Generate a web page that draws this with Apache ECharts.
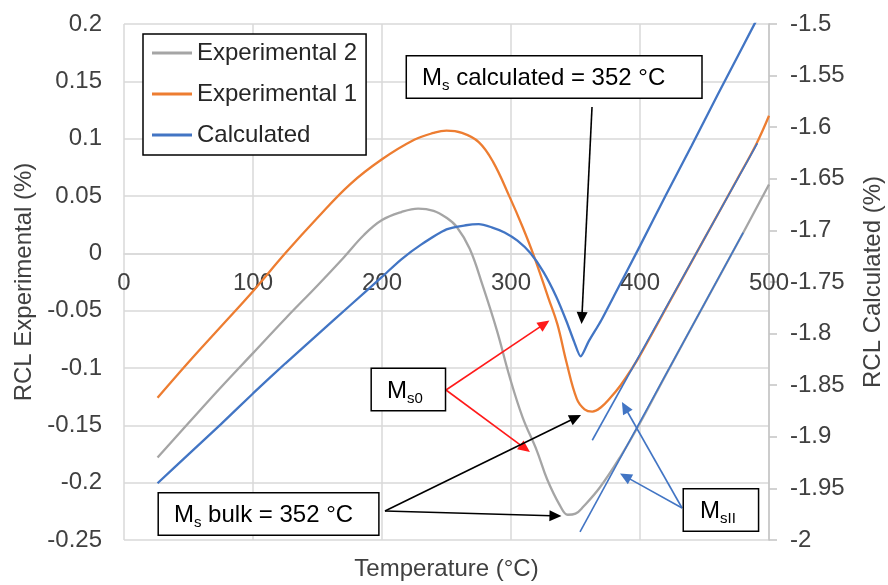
<!DOCTYPE html>
<html>
<head>
<meta charset="utf-8">
<script src="https://cdn.jsdelivr.net/npm/echarts@6/dist/echarts.min.js"></script>
<style>
  html, body { margin: 0; padding: 0; background: #fff; }
  #chart { width: 888px; height: 585px; }
</style>
</head>
<body>
<div id="chart"></div>
<script>
// Relative change in length (RCL) versus temperature, two dilatometry runs and the calculated curve
const exp2Temp = [26, 50, 75, 100, 125, 150, 170, 186, 200, 215, 228, 240, 250, 258, 268, 278, 289, 299, 309, 320, 328, 338, 344, 350, 356, 369, 385, 400, 420, 450, 480, 500];
const exp2Rcl  = [-0.178, -0.148, -0.117, -0.087, -0.057, -0.028, -0.004, 0.016, 0.029, 0.036, 0.039, 0.037, 0.031, 0.023, 0.004, -0.028, -0.067, -0.108, -0.143, -0.172, -0.197, -0.220, -0.228, -0.227, -0.221, -0.204, -0.177, -0.148, -0.106, -0.044, 0.018, 0.060];

const exp1Temp = [26, 50, 75, 100, 125, 150, 175, 200, 225, 240, 250, 262, 275, 286, 299, 309, 318, 329, 336, 343, 351, 357, 363, 370, 377, 385, 394, 400, 425, 450, 475, 490, 500];
const exp1Rcl  = [-0.126, -0.095, -0.064, -0.033, 0.000, 0.031, 0.060, 0.082, 0.099, 0.105, 0.107, 0.105, 0.097, 0.080, 0.049, 0.023, -0.003, -0.039, -0.062, -0.095, -0.127, -0.136, -0.138, -0.134, -0.126, -0.115, -0.100, -0.089, -0.038, 0.013, 0.064, 0.095, 0.120];

const calcTemp = [26, 50, 75, 100, 125, 150, 175, 200, 215, 230, 250, 265, 275, 285, 295, 305, 315, 325, 335, 343, 349, 354, 360, 370, 380, 400, 420, 440, 460, 480, 500];
const calcRcl  = [-1.945, -1.917, -1.888, -1.858, -1.829, -1.801, -1.773, -1.745, -1.728, -1.714, -1.699, -1.695, -1.694, -1.697, -1.702, -1.710, -1.722, -1.740, -1.764, -1.788, -1.808, -1.822, -1.808, -1.787, -1.763, -1.715, -1.666, -1.618, -1.569, -1.521, -1.473];

// Straight construction lines used to read M_sII
const tangentATemp = [363, 491];
const tangentARcl  = [-0.163, 0.096];
const tangentBTemp = [353.5, 480];
const tangentBRcl  = [-0.243, 0.018];

// Axis ranges and steps
const tempAxis = { min: 0, max: 500, step: 100 };
const expAxis  = { min: -0.25, max: 0.2, step: 0.05 };
const calcAxis = { min: -2, max: -1.5, step: 0.05 };

const FONT = "'Liberation Sans', Arial, sans-serif";
const GRID_COLOR = '#d9d9d9';
const TICK_TEXT = '#404040';
const BLUE = '#4275c4';
const ORANGE = '#ed7d31';
const GRAY = '#a5a5a5';

const zip = (xs, ys) => xs.map((x, i) => [x, ys[i]]);

const chart = echarts.init(document.getElementById('chart'), null, { renderer: 'canvas' });

chart.setOption({
  animation: false,
  backgroundColor: '#fff',
  textStyle: { fontFamily: FONT },
  grid: { left: 124, right: 119, top: 24, bottom: 45, containLabel: false, outerBoundsMode: 'none' },
  legend: {
    data: ['Experimental 2', 'Experimental 1', 'Calculated'],
    orient: 'vertical',
    left: 143,
    top: 34,
    icon: 'rect',
    itemWidth: 40,
    itemHeight: 3,
    itemGap: 17,
    padding: [7, 9, 8, 9],
    borderColor: '#000',
    borderWidth: 1.5,
    borderRadius: 0,
    backgroundColor: '#fff',
    textStyle: { fontSize: 24, color: '#262626', fontFamily: FONT, lineHeight: 24 }
  },
  xAxis: {
    type: 'value',
    min: tempAxis.min,
    max: tempAxis.max,
    interval: tempAxis.step,
    axisLine: { show: true, onZero: false, lineStyle: { color: GRID_COLOR, width: 1.5 } },
    axisTick: { show: false },
    axisLabel: { fontSize: 24, color: TICK_TEXT, margin: 18, fontFamily: FONT, showMinLabel: true, showMaxLabel: true },
    splitLine: { show: true, lineStyle: { color: GRID_COLOR, width: 1.5 } }
  },
  yAxis: [
    {
      type: 'value',
      position: 'left',
      min: expAxis.min,
      max: expAxis.max,
      interval: expAxis.step,
      name: 'RCL Experimental (%)',
      nameLocation: 'middle',
      nameGap: 88,
      nameTextStyle: { fontSize: 24, color: TICK_TEXT, fontFamily: FONT },
      axisLine: { show: false, onZero: false },
      axisTick: { show: false },
      axisLabel: { fontSize: 24, color: TICK_TEXT, margin: 22, fontFamily: FONT },
      splitLine: { show: true, lineStyle: { color: GRID_COLOR, width: 1.5 } }
    },
    {
      type: 'value',
      position: 'right',
      min: calcAxis.min,
      max: calcAxis.max,
      interval: calcAxis.step,
      name: 'RCL Calculated (%)',
      nameLocation: 'middle',
      nameGap: 92,
      nameTextStyle: { fontSize: 24, color: TICK_TEXT, fontFamily: FONT },
      axisLine: { show: true, onZero: false, lineStyle: { color: '#c4c4c4', width: 1.5 } },
      axisTick: { show: true, length: 8, lineStyle: { color: '#c4c4c4', width: 1.5 } },
      axisLabel: { fontSize: 24, color: TICK_TEXT, margin: 21, fontFamily: FONT },
      splitLine: { show: false }
    }
  ],
  series: [
    {
      name: 'Experimental 2', type: 'line', yAxisIndex: 0,
      data: zip(exp2Temp, exp2Rcl),
      smooth: 0.4, symbol: 'none',
      itemStyle: { color: GRAY }, lineStyle: { color: GRAY, width: 2.3 }
    },
    {
      name: 'Experimental 1', type: 'line', yAxisIndex: 0,
      data: zip(exp1Temp, exp1Rcl),
      smooth: 0.4, symbol: 'none',
      itemStyle: { color: ORANGE }, lineStyle: { color: ORANGE, width: 2.3 }
    },
    {
      name: 'Calculated', type: 'line', yAxisIndex: 1,
      data: zip(calcTemp, calcRcl),
      smooth: 0.25, symbol: 'none',
      itemStyle: { color: BLUE }, lineStyle: { color: BLUE, width: 2.3 }
    },
    {
      name: 'Tangent A', type: 'line', yAxisIndex: 0,
      data: zip(tangentATemp, tangentARcl),
      symbol: 'none', silent: true,
      itemStyle: { color: BLUE }, lineStyle: { color: BLUE, width: 1.6 }
    },
    {
      name: 'Tangent B', type: 'line', yAxisIndex: 0,
      data: zip(tangentBTemp, tangentBRcl),
      symbol: 'none', silent: true,
      itemStyle: { color: BLUE }, lineStyle: { color: BLUE, width: 1.6 }
    }
  ]
});

const toPx = (p) => chart.convertToPixel({ xAxisIndex: 0, yAxisIndex: 0 }, p);

// The temperature axis crosses the left scale at zero, so lift it from the bottom edge to that level
const zeroLevel = toPx([tempAxis.min, 0])[1];
const bottomLevel = toPx([tempAxis.min, expAxis.min])[1];
chart.setOption({ xAxis: { offset: zeroLevel - bottomLevel } });

// Callout boxes, anchored by their left-middle point in (temperature, RCL experimental) units
const callouts = [
  { text: '{t|M}{s|s}{t| calculated = 352 °C}', at: [219.4, 0.1537], padding: [10, 36, 7, 15] },
  { text: '{t|M}{s|s0}', at: [192.2, -0.1188], padding: [10, 22, 7, 15] },
  { text: '{t|M}{s|s}{t| bulk = 352 °C}', at: [27.1, -0.2274], padding: [10, 25, 7, 15] },
  { text: '{t|M}{s|sII}', at: [434.1, -0.2238], padding: [10, 22, 7, 16] }
];

// Pointer arrows in the same units
const arrows = [
  { from: [362.8, 0.1276], to: [354.7, -0.0617], color: '#000' },
  { from: [249.6, -0.1192], to: [329.8, -0.0586], color: '#ff1a1a' },
  { from: [249.6, -0.1192], to: [314.7, -0.1733], color: '#ff1a1a' },
  { from: [202.3, -0.2247], to: [354.3, -0.1410], color: '#000' },
  { from: [202.3, -0.2247], to: [339.1, -0.2291], color: '#000' },
  { from: [432.6, -0.2221], to: [386.0, -0.1297], color: BLUE },
  { from: [432.6, -0.2221], to: [384.5, -0.1920], color: BLUE }
];

const graphics = [];

arrows.forEach((a) => {
  const p0 = toPx(a.from);
  const p1 = toPx(a.to);
  const dx = p1[0] - p0[0], dy = p1[1] - p0[1];
  const len = Math.hypot(dx, dy);
  const ux = dx / len, uy = dy / len;
  const headLen = 12, headHalf = 5.5;
  const bx = p1[0] - ux * headLen, by = p1[1] - uy * headLen;
  graphics.push({
    type: 'line', z: 100,
    shape: { x1: p0[0], y1: p0[1], x2: bx + ux * 2, y2: by + uy * 2 },
    style: { stroke: a.color, lineWidth: 1.6 }
  });
  graphics.push({
    type: 'polygon', z: 100,
    shape: { points: [[p1[0], p1[1]], [bx - uy * headHalf, by + ux * headHalf], [bx + uy * headHalf, by - ux * headHalf]] },
    style: { fill: a.color }
  });
});

callouts.forEach((c) => {
  const p = toPx(c.at);
  graphics.push({
    type: 'text', z: 110,
    x: p[0], y: p[1],
    style: {
      text: c.text,
      align: 'left',
      verticalAlign: 'middle',
      backgroundColor: '#fff',
      borderColor: '#000',
      borderWidth: 1.5,
      padding: c.padding,
      fill: '#000',
      rich: {
        t: { fontSize: 24, lineHeight: 24, verticalAlign: 'top', fontFamily: FONT, fill: '#000', color: '#000' },
        s: { fontSize: 15, lineHeight: 15, verticalAlign: 'top', padding: [12, 0, 0, 0], fontFamily: FONT, fill: '#000', color: '#000' }
      }
    }
  });
});

// Horizontal axis title, centred under the plot area
const midBottom = toPx([(tempAxis.min + tempAxis.max) / 2, expAxis.min]);
graphics.push({
  type: 'text', z: 50,
  x: midBottom[0], y: midBottom[1] + 29,
  style: { text: 'Temperature (°C)', align: 'center', verticalAlign: 'middle', fontSize: 24, fontFamily: FONT, fill: TICK_TEXT }
});

chart.setOption({ graphic: graphics });
</script>
</body>
</html>
